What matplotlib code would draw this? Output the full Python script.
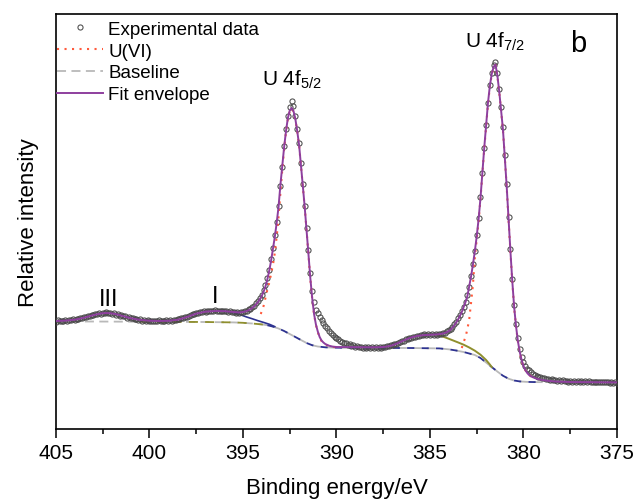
import numpy as np
import matplotlib
matplotlib.use('Agg')
import matplotlib.pyplot as plt
from matplotlib.lines import Line2D

plt.rcParams['font.family'] = ['Liberation Sans', 'DejaVu Sans']
plt.rcParams['mathtext.fontset'] = 'custom'
plt.rcParams['mathtext.rm'] = 'Liberation Sans'
plt.rcParams['mathtext.it'] = 'Liberation Sans'

# U 4f XPS spectrum, binding energy in eV, intensity in arbitrary units
# experimental points, 0.1 eV steps from 405.0 down to 375.0
exp_energy = np.round(np.linspace(405.0, 375.0, 301), 1)
exp_counts = [
    107.5, 108.6, 107.9, 108.4, 107.6, 108.9, 108.2, 109.1, 108.7, 109.6,
    109.0, 110.1, 109.9, 111.0, 110.7, 111.8, 111.9, 112.9, 112.6, 113.8,
    113.6, 114.7, 114.6, 115.6, 115.1, 116.3, 115.7, 116.6, 115.8, 116.2,
    115.2, 115.6, 114.4, 114.6, 113.5, 113.9, 112.6, 112.8, 111.4, 111.9,
    110.6, 110.9, 109.8, 110.1, 109.1, 109.6, 108.5, 109.0, 108.0, 108.6,
    107.9, 108.4, 107.6, 108.3, 107.8, 108.6, 107.7, 108.4, 108.0, 108.7,
    108.1, 108.9, 108.5, 109.3, 109.1, 109.9, 110.0, 111.1, 111.0, 112.2,
    112.3, 113.4, 113.6, 114.7, 114.8, 115.9, 115.9, 116.8, 116.6, 117.6,
    117.3, 118.2, 117.7, 118.5, 117.9, 118.6, 117.8, 118.5, 117.7, 118.4,
    117.6, 118.1, 117.1, 117.6, 116.6, 117.3, 116.3, 116.9, 116.2, 116.9,
    117.5, 118.2, 118.4, 119.7, 120.4, 122.0, 123.5, 125.6, 127.9, 130.9,
    134.2, 138.8, 143.9, 151.2, 159.4, 169.8, 181.1, 193.6, 207.5, 223.0,
    243.0, 262.0, 283.5, 300.0, 313.0, 322.5, 328.0, 323.0, 313.0, 300.5,
    286.0, 266.0, 245.0, 223.5, 201.0, 179.0, 156.0, 138.5, 127.0, 119.5,
    116.5, 112.5, 109.0, 106.0, 103.5, 101.0, 98.5, 96.5, 94.5, 92.5,
    90.8, 89.6, 88.0, 87.5, 86.0, 85.8, 84.5, 84.6, 83.3, 83.6,
    82.4, 82.9, 81.8, 82.4, 81.5, 82.2, 81.3, 82.0, 81.2, 81.9,
    81.0, 81.8, 81.1, 81.9, 81.4, 82.3, 81.9, 82.9, 82.7, 83.8,
    83.8, 85.0, 85.2, 86.5, 86.7, 88.0, 88.4, 89.7, 90.0, 91.2,
    91.4, 92.5, 92.4, 93.4, 93.1, 94.1, 93.7, 94.6, 94.0, 94.8,
    94.3, 94.9, 94.2, 95.0, 94.4, 95.3, 95.0, 96.1, 96.3, 97.6,
    98.6, 100.3, 102.2, 104.8, 107.3, 110.8, 114.0, 118.2, 122.4, 127.5,
    133.8, 142.5, 153.5, 165.0, 178.5, 194.0, 211.0, 232.0, 256.5, 281.0,
    304.0, 326.5, 344.0, 356.0, 364.0, 367.0, 356.0, 340.0, 322.0, 302.0,
    274.0, 245.0, 212.0, 180.0, 150.0, 124.5, 105.5, 91.0, 80.0, 72.5,
    67.0, 63.2, 60.4, 58.6, 56.6, 55.3, 54.0, 53.4, 52.3, 52.0,
    51.0, 50.9, 50.0, 50.2, 49.3, 49.7, 48.8, 49.3, 48.3, 48.9,
    47.9, 48.6, 47.7, 48.4, 47.5, 48.2, 47.3, 48.0, 47.1, 47.9,
    47.0, 47.8, 46.9, 47.7, 46.8, 47.6, 46.8, 47.5, 46.7, 47.5,
    46.7, 47.4, 46.6, 47.4, 46.6, 47.3, 46.5, 47.3, 46.5, 47.2,
    46.5,
]

# fit envelope
fit_energy = [
    405.0, 404.5, 404.0, 403.5, 403.0, 402.7, 402.5, 402.3, 402.1, 401.8,
    401.5, 401.0, 400.5, 400.0, 399.5, 399.0, 398.5, 398.0, 397.5, 397.0,
    396.5, 396.0, 395.5, 395.2, 395.0, 394.8, 394.6, 394.4, 394.2, 394.0,
    393.9, 393.8, 393.7, 393.6, 393.5, 393.4, 393.3, 393.2, 393.1, 393.0,
    392.9, 392.8, 392.7, 392.6, 392.5, 392.4, 392.3, 392.2, 392.1, 392.0,
    391.9, 391.8, 391.7, 391.6, 391.5, 391.4, 391.3, 391.2, 391.1, 391.0,
    390.9, 390.8, 390.7, 390.6, 390.4, 390.2, 390.0, 389.5, 389.0, 388.0,
    387.5, 387.2, 387.0, 386.7, 386.5, 386.2, 386.0, 385.7, 385.4, 385.0,
    384.6, 384.3, 384.1, 383.9, 383.7, 383.5, 383.3, 383.1, 383.0, 382.9,
    382.8, 382.7, 382.6, 382.5, 382.4, 382.3, 382.2, 382.1, 382.0, 381.9,
    381.8, 381.7, 381.6, 381.5, 381.4, 381.3, 381.2, 381.1, 381.0, 380.9,
    380.8, 380.7, 380.6, 380.5, 380.4, 380.3, 380.2, 380.1, 380.0, 379.9,
    379.8, 379.7, 379.6, 379.5, 379.3, 379.0, 378.7, 378.3, 377.5, 375.0,
]
fit_counts = [
    108.0, 108.4, 109.3, 111.3, 113.9, 115.2, 115.8, 116.0, 115.8, 114.9,
    113.4, 110.8, 109.1, 108.3, 108.0, 108.2, 109.2, 112.0, 115.4, 117.4,
    118.0, 117.9, 117.0, 116.6, 117.0, 118.0, 119.8, 122.6, 126.8, 133.0,
    137.2, 142.5, 149.5, 158.0, 168.0, 180.0, 192.0, 206.0, 222.0, 244.0,
    263.0, 282.0, 298.0, 311.0, 318.5, 321.0, 318.0, 310.0, 298.0, 284.0,
    264.0, 243.0, 222.0, 199.0, 175.0, 151.0, 131.0, 115.0, 104.5, 97.5,
    92.0, 88.5, 86.5, 85.0, 83.3, 82.4, 82.0, 81.9, 81.8, 81.7,
    82.0, 82.8, 83.8, 86.0, 87.8, 90.2, 91.6, 93.0, 93.8, 94.2,
    94.6, 95.5, 96.8, 99.2, 103.5, 109.5, 117.0, 127.0, 133.0, 143.0,
    153.0, 165.0, 178.0, 193.0, 210.0, 231.0, 256.0, 281.0, 303.0, 326.0,
    343.0, 355.0, 362.0, 364.5, 354.0, 338.0, 319.0, 300.0, 272.0, 243.0,
    210.0, 178.0, 148.0, 122.0, 103.0, 88.0, 77.0, 69.0, 63.0, 59.0,
    56.0, 54.0, 52.7, 51.8, 50.3, 49.0, 48.2, 47.5, 47.0, 46.6,
]

# U(VI) components (4f5/2 and 4f7/2), drawn on top of the baseline
u52_energy = [
    394.05, 393.9, 393.8, 393.7, 393.6, 393.5, 393.4, 393.3, 393.2, 393.1,
    393.0, 392.9, 392.8, 392.7, 392.6, 392.5, 392.4, 392.3, 392.2, 392.1,
    392.0, 391.9, 391.8, 391.7, 391.6, 391.5, 391.4, 391.3, 391.2, 391.1,
    391.0, 390.9, 390.8, 390.7, 390.6, 390.4, 390.2, 390.0,
]
u52_counts = [
    115, 123, 131, 139, 146, 155, 164, 176, 192, 212,
    236, 259, 280, 297, 310, 318, 320.5, 317.5, 309.5, 297.5,
    283.5, 263.5, 242.5, 221.5, 198.5, 174.5, 150.5, 130.5, 114.5, 104,
    97, 91.5, 88, 86, 84.5, 83, 82.1, 81.7,
]
u72_energy = [
    383.3, 383.2, 383.1, 383.0, 382.9, 382.8, 382.7, 382.6, 382.5, 382.4,
    382.3, 382.2, 382.1, 382.0, 381.9, 381.8, 381.7, 381.6, 381.5, 381.4,
    381.3, 381.2, 381.1, 381.0, 380.9, 380.8, 380.7, 380.6, 380.5, 380.4,
    380.3, 380.2, 380.1, 380.0, 379.8, 379.5,
]
u72_counts = [
    81, 87, 92, 100, 110, 127, 145, 172, 190, 208,
    230, 255, 280, 302, 325, 342, 354, 361.5, 364, 353.5,
    337.5, 318.5, 299.5, 271.5, 242.5, 209.5, 177.5, 147.5, 121.5, 102.5,
    87.5, 76.5, 68.5, 62.5, 55.5, 51.3,
]

# satellite components
sat1_energy = [396.2, 396.0, 395.7, 395.4, 395.1, 394.8, 394.5, 394.2, 393.9, 393.6, 393.3]
sat1_counts = [118.0, 117.7, 117.0, 115.8, 114.0, 112.0, 110.2, 108.3, 106.6, 104.8, 102.4]
sat2_energy = [384.7, 384.4, 384.1, 383.8, 383.5, 383.2, 382.9, 382.6, 382.3, 382.0, 381.8, 381.7]
sat2_counts = [94.6, 93.0, 91.0, 88.8, 86.6, 84.3, 81.5, 78.3, 74.3, 69.0, 64.5, 62.0]

# shirley type baseline
base_energy = np.array([
    405.0, 403.0, 401.0, 400.5, 399.0, 397.0, 395.5, 395.0, 394.5, 394.0,
    393.7, 393.4, 393.1, 392.8, 392.5, 392.2, 391.9, 391.6, 391.3, 391.0,
    390.6, 390.0, 388.0, 386.0, 384.5, 384.0, 383.6, 383.2, 382.9, 382.6,
    382.3, 382.0, 381.7, 381.4, 381.1, 380.8, 380.5, 380.2, 379.8, 379.3,
    378.0, 375.0,
])
base_counts = np.array([
    107.5, 107.5, 107.3, 107.3, 107.2, 107.0, 106.6, 106.2, 105.5, 104.6,
    103.8, 102.4, 100.5, 98.0, 95.0, 92.0, 89.0, 86.0, 83.8, 82.5,
    81.7, 81.3, 81.1, 81.0, 80.6, 79.7, 78.5, 77.0, 75.5, 74.0,
    71.0, 66.5, 62.0, 57.5, 53.3, 50.3, 48.5, 47.6, 47.1, 46.9,
    46.7, 46.5,
])

purple = '#8e3f9e'
red = '#ff5a3c'
grey = '#b9b9b9'
navy = '#2d3290'
olive = '#8f8f2e'

fig = plt.figure(figsize=(6.37, 5.02), dpi=100)
ax = fig.add_axes([0.0879, 0.1434, 0.8807, 0.8267])

# baseline, with coloured dashes where the components sit on it
ax.plot(base_energy, base_counts, color=grey, lw=1.3, dashes=(5, 3), zorder=2)
m1 = (base_energy <= 400.5) & (base_energy >= 393.7)
ax.plot(base_energy[m1], base_counts[m1], color=olive, lw=1.3, dashes=(5, 4), zorder=2.1)
m2 = (base_energy <= 393.7) & (base_energy >= 379.3)
ax.plot(base_energy[m2], base_counts[m2], color=navy, lw=1.3, dashes=(4, 4), zorder=2.1)

ax.plot(sat1_energy, sat1_counts, color=navy, lw=1.2, zorder=2.5)
ax.plot(sat2_energy, sat2_counts, color=olive, lw=1.4, zorder=2.5)

ax.plot(exp_energy, exp_counts, 'o', mfc='none', mec='#4a4a4a', ms=3.7, mew=0.75, zorder=3)
ax.plot(u52_energy, u52_counts, color=red, lw=1.5, linestyle=(0, (1, 2.6)), zorder=3.5)
ax.plot(u72_energy, u72_counts, color=red, lw=1.5, linestyle=(0, (1, 2.6)), zorder=3.5)
ax.plot(fit_energy, fit_counts, color=purple, lw=1.4, zorder=4)

ax.set_xlim(405, 375)
ax.set_ylim(0, 415)
ax.set_yticks([])
ax.set_xticks([405, 400, 395, 390, 385, 380, 375])
ax.set_xticks([402.5, 397.5, 392.5, 387.5, 382.5, 377.5], minor=True)
ax.tick_params(axis='x', which='major', direction='out', length=6.7, width=1.1, labelsize=15, pad=3.5)
ax.tick_params(axis='x', which='minor', direction='out', length=3.6, width=1.1)
for s in ax.spines.values():
    s.set_linewidth(1.2)

ax.set_xlabel('Binding energy/eV', fontsize=16, labelpad=11)
ax.set_ylabel('Relative intensity', fontsize=16, labelpad=12)

ax.text(394.0, 344, 'U 4f$_{5/2}$', fontsize=15, ha='left', va='baseline')
ax.text(383.13, 382, 'U 4f$_{7/2}$', fontsize=15, ha='left', va='baseline')
ax.text(377.5, 378, 'b', fontsize=21, ha='left', va='baseline')
ax.text(402.2, 124, 'III', fontsize=17, ha='center', va='baseline')
ax.text(396.5, 127, 'I', fontsize=17, ha='center', va='baseline')

handles = [
    Line2D([], [], ls='none', marker='o', mfc='none', mec='#4a4a4a', ms=3.7, mew=0.75),
    Line2D([], [], color=red, lw=1.5, linestyle=(0, (1, 2.6))),
    Line2D([], [], color=grey, lw=1.3, dashes=(5, 3)),
    Line2D([], [], color=purple, lw=1.4),
]
labels = ['Experimental data', 'U(VI)', 'Baseline', 'Fit envelope']
ax.legend(handles, labels, loc='upper left', bbox_to_anchor=(-0.0094, 1.0), frameon=False,
          fontsize=13.5, borderaxespad=0, borderpad=0.35, labelspacing=0.25,
          handlelength=2.45, handletextpad=0.28, numpoints=1)

fig.savefig('out.png', dpi=100)
